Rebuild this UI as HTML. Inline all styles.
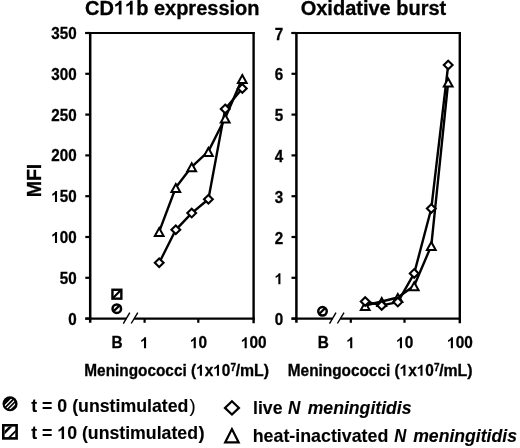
<!DOCTYPE html><html><head><meta charset="utf-8"><style>html,body{margin:0;padding:0;background:#fff}svg{display:block;will-change:transform;filter:blur(0.35px)}text,.one{stroke:#000;stroke-width:0.3px}text.lg{stroke-width:0.12px}</style></head><body><svg width="520" height="448" viewBox="0 0 520 448">
<rect width="520" height="448" fill="#fff"/>
<g stroke="#000" fill="none">
<line x1="90.2" y1="32.0" x2="90.2" y2="322.8" stroke-width="2.5"/>
<line x1="253.6" y1="32.0" x2="253.6" y2="323.2" stroke-width="2.4"/>
<line x1="85.3" y1="33.0" x2="254.8" y2="33.0" stroke-width="2.2"/>
<line x1="85.3" y1="318.6" x2="126.3" y2="318.6" stroke-width="2.3"/>
<line x1="134.2" y1="318.6" x2="254.8" y2="318.6" stroke-width="2.3"/>
<line x1="85.3" y1="33.00" x2="90.2" y2="33.00" stroke-width="2.2"/>
<line x1="85.3" y1="73.80" x2="90.2" y2="73.80" stroke-width="2.2"/>
<line x1="85.3" y1="114.60" x2="90.2" y2="114.60" stroke-width="2.2"/>
<line x1="85.3" y1="155.40" x2="90.2" y2="155.40" stroke-width="2.2"/>
<line x1="85.3" y1="196.20" x2="90.2" y2="196.20" stroke-width="2.2"/>
<line x1="85.3" y1="237.00" x2="90.2" y2="237.00" stroke-width="2.2"/>
<line x1="85.3" y1="277.80" x2="90.2" y2="277.80" stroke-width="2.2"/>
<line x1="85.3" y1="318.60" x2="90.2" y2="318.60" stroke-width="2.2"/>
<line x1="144.6" y1="318.6" x2="144.6" y2="322.8" stroke-width="2.2"/>
<line x1="198.3" y1="318.6" x2="198.3" y2="322.8" stroke-width="2.2"/>
<line x1="123.3" y1="323.7" x2="129.8" y2="312.6" stroke-width="1.4"/>
<line x1="131.2" y1="323.5" x2="137.8" y2="312.6" stroke-width="1.4"/>
</g>
<text x="85" y="14.6" font-family="&apos;Liberation Sans&apos;, sans-serif" font-weight="bold" font-size="20">CD  b expression</text>
<text transform="translate(76.6,324.50) scale(0.95,1)" font-family="&apos;Liberation Sans&apos;, sans-serif" font-weight="bold" font-size="16" text-anchor="end">0</text>
<text transform="translate(76.6,283.70) scale(0.95,1)" font-family="&apos;Liberation Sans&apos;, sans-serif" font-weight="bold" font-size="16" text-anchor="end">50</text>
<text transform="translate(76.6,242.90) scale(0.95,1)" font-family="&apos;Liberation Sans&apos;, sans-serif" font-weight="bold" font-size="16" text-anchor="end"> 00</text>
<text transform="translate(76.6,202.10) scale(0.95,1)" font-family="&apos;Liberation Sans&apos;, sans-serif" font-weight="bold" font-size="16" text-anchor="end"> 50</text>
<text transform="translate(76.6,161.30) scale(0.95,1)" font-family="&apos;Liberation Sans&apos;, sans-serif" font-weight="bold" font-size="16" text-anchor="end">200</text>
<text transform="translate(76.6,120.50) scale(0.95,1)" font-family="&apos;Liberation Sans&apos;, sans-serif" font-weight="bold" font-size="16" text-anchor="end">250</text>
<text transform="translate(76.6,79.70) scale(0.95,1)" font-family="&apos;Liberation Sans&apos;, sans-serif" font-weight="bold" font-size="16" text-anchor="end">300</text>
<text transform="translate(76.6,38.90) scale(0.95,1)" font-family="&apos;Liberation Sans&apos;, sans-serif" font-weight="bold" font-size="16" text-anchor="end">350</text>
<text transform="translate(117.1,348.3) scale(0.96,1)" font-family="&apos;Liberation Sans&apos;, sans-serif" font-weight="bold" font-size="16" text-anchor="middle">B</text>
<text transform="translate(144.5,348.3) scale(0.96,1)" font-family="&apos;Liberation Sans&apos;, sans-serif" font-weight="bold" font-size="16" text-anchor="middle"> </text>
<text transform="translate(198.5,348.3) scale(0.96,1)" font-family="&apos;Liberation Sans&apos;, sans-serif" font-weight="bold" font-size="16" text-anchor="middle"> 0</text>
<text transform="translate(253.7,348.3) scale(0.96,1)" font-family="&apos;Liberation Sans&apos;, sans-serif" font-weight="bold" font-size="16" text-anchor="middle"> 00</text>
<polyline points="159.20,231.60 175.80,187.50 191.70,166.80 208.40,151.40 225.20,118.00 242.30,78.60" fill="none" stroke="#000" stroke-width="2.4" stroke-linejoin="round"/>
<polyline points="159.20,262.80 175.80,229.80 191.70,213.10 208.40,199.30 225.20,108.90 242.30,88.40" fill="none" stroke="#000" stroke-width="2.4" stroke-linejoin="round"/>
<path d="M159.20 228.10L163.60 236.10L154.80 236.10Z" fill="#fff" stroke="#000" stroke-width="2.0"/>
<path d="M175.80 184.00L180.20 192.00L171.40 192.00Z" fill="#fff" stroke="#000" stroke-width="2.0"/>
<path d="M191.70 163.30L196.10 171.30L187.30 171.30Z" fill="#fff" stroke="#000" stroke-width="2.0"/>
<path d="M208.40 147.90L212.80 155.90L204.00 155.90Z" fill="#fff" stroke="#000" stroke-width="2.0"/>
<path d="M225.20 114.50L229.60 122.50L220.80 122.50Z" fill="#fff" stroke="#000" stroke-width="2.0"/>
<path d="M242.30 75.10L246.70 83.10L237.90 83.10Z" fill="#fff" stroke="#000" stroke-width="2.0"/>
<path d="M159.20 258.50L163.60 262.80L159.20 267.10L154.80 262.80Z" fill="#fff" stroke="#000" stroke-width="2.1"/>
<path d="M175.80 225.50L180.20 229.80L175.80 234.10L171.40 229.80Z" fill="#fff" stroke="#000" stroke-width="2.1"/>
<path d="M191.70 208.80L196.10 213.10L191.70 217.40L187.30 213.10Z" fill="#fff" stroke="#000" stroke-width="2.1"/>
<path d="M208.40 195.00L212.80 199.30L208.40 203.60L204.00 199.30Z" fill="#fff" stroke="#000" stroke-width="2.1"/>
<path d="M225.20 104.60L229.60 108.90L225.20 113.20L220.80 108.90Z" fill="#fff" stroke="#000" stroke-width="2.1"/>
<path d="M242.30 84.10L246.70 88.40L242.30 92.70L237.90 88.40Z" fill="#fff" stroke="#000" stroke-width="2.1"/>
<circle cx="116.8" cy="308.7" r="4.25" fill="#fff" stroke="#000" stroke-width="2.5"/><line x1="113.20" y1="311.70" x2="119.80" y2="305.10" stroke="#000" stroke-width="2.3"/>
<rect x="112.45" y="289.75" width="8.90" height="8.90" fill="#fff" stroke="#000" stroke-width="2.4"/><line x1="113.05" y1="298.05" x2="120.75" y2="290.35" stroke="#000" stroke-width="2.1"/>
<g stroke="#000" fill="none">
<line x1="296.4" y1="32.0" x2="296.4" y2="322.8" stroke-width="2.5"/>
<line x1="459.8" y1="32.0" x2="459.8" y2="323.2" stroke-width="2.4"/>
<line x1="291.5" y1="33.0" x2="461.0" y2="33.0" stroke-width="2.2"/>
<line x1="291.5" y1="318.6" x2="332.5" y2="318.6" stroke-width="2.3"/>
<line x1="340.4" y1="318.6" x2="461.0" y2="318.6" stroke-width="2.3"/>
<line x1="291.5" y1="33.00" x2="296.4" y2="33.00" stroke-width="2.2"/>
<line x1="291.5" y1="73.80" x2="296.4" y2="73.80" stroke-width="2.2"/>
<line x1="291.5" y1="114.60" x2="296.4" y2="114.60" stroke-width="2.2"/>
<line x1="291.5" y1="155.40" x2="296.4" y2="155.40" stroke-width="2.2"/>
<line x1="291.5" y1="196.20" x2="296.4" y2="196.20" stroke-width="2.2"/>
<line x1="291.5" y1="237.00" x2="296.4" y2="237.00" stroke-width="2.2"/>
<line x1="291.5" y1="277.80" x2="296.4" y2="277.80" stroke-width="2.2"/>
<line x1="291.5" y1="318.60" x2="296.4" y2="318.60" stroke-width="2.2"/>
<line x1="350.8" y1="318.6" x2="350.8" y2="322.8" stroke-width="2.2"/>
<line x1="404.5" y1="318.6" x2="404.5" y2="322.8" stroke-width="2.2"/>
<line x1="329.5" y1="323.7" x2="336.0" y2="312.6" stroke-width="1.4"/>
<line x1="337.4" y1="323.5" x2="344.0" y2="312.6" stroke-width="1.4"/>
</g>
<text x="300.7" y="14.6" font-family="&apos;Liberation Sans&apos;, sans-serif" font-weight="bold" font-size="20">Oxidative burst</text>
<text transform="translate(283.1,325.10) scale(0.95,1)" font-family="&apos;Liberation Sans&apos;, sans-serif" font-weight="bold" font-size="16" text-anchor="end">0</text>
<text transform="translate(283.1,284.30) scale(0.95,1)" font-family="&apos;Liberation Sans&apos;, sans-serif" font-weight="bold" font-size="16" text-anchor="end"> </text>
<text transform="translate(283.1,243.50) scale(0.95,1)" font-family="&apos;Liberation Sans&apos;, sans-serif" font-weight="bold" font-size="16" text-anchor="end">2</text>
<text transform="translate(283.1,202.70) scale(0.95,1)" font-family="&apos;Liberation Sans&apos;, sans-serif" font-weight="bold" font-size="16" text-anchor="end">3</text>
<text transform="translate(283.1,161.90) scale(0.95,1)" font-family="&apos;Liberation Sans&apos;, sans-serif" font-weight="bold" font-size="16" text-anchor="end">4</text>
<text transform="translate(283.1,121.10) scale(0.95,1)" font-family="&apos;Liberation Sans&apos;, sans-serif" font-weight="bold" font-size="16" text-anchor="end">5</text>
<text transform="translate(283.1,80.30) scale(0.95,1)" font-family="&apos;Liberation Sans&apos;, sans-serif" font-weight="bold" font-size="16" text-anchor="end">6</text>
<text transform="translate(283.1,39.50) scale(0.95,1)" font-family="&apos;Liberation Sans&apos;, sans-serif" font-weight="bold" font-size="16" text-anchor="end">7</text>
<text transform="translate(323.3,348.3) scale(0.96,1)" font-family="&apos;Liberation Sans&apos;, sans-serif" font-weight="bold" font-size="16" text-anchor="middle">B</text>
<text transform="translate(350.7,348.3) scale(0.96,1)" font-family="&apos;Liberation Sans&apos;, sans-serif" font-weight="bold" font-size="16" text-anchor="middle"> </text>
<text transform="translate(404.7,348.3) scale(0.96,1)" font-family="&apos;Liberation Sans&apos;, sans-serif" font-weight="bold" font-size="16" text-anchor="middle"> 0</text>
<text transform="translate(459.9,348.3) scale(0.96,1)" font-family="&apos;Liberation Sans&apos;, sans-serif" font-weight="bold" font-size="16" text-anchor="middle"> 00</text>
<polyline points="365.20,305.50 381.70,301.50 397.80,297.50 414.20,285.80 431.30,245.60 448.20,82.00" fill="none" stroke="#000" stroke-width="2.4" stroke-linejoin="round"/>
<polyline points="365.20,301.50 381.70,305.40 397.80,302.10 414.20,273.40 431.30,208.50 448.20,65.00" fill="none" stroke="#000" stroke-width="2.4" stroke-linejoin="round"/>
<path d="M365.20 302.00L369.60 310.00L360.80 310.00Z" fill="#fff" stroke="#000" stroke-width="2.0"/>
<path d="M381.70 298.00L386.10 306.00L377.30 306.00Z" fill="#fff" stroke="#000" stroke-width="2.0"/>
<path d="M397.80 294.00L402.20 302.00L393.40 302.00Z" fill="#fff" stroke="#000" stroke-width="2.0"/>
<path d="M414.20 282.30L418.60 290.30L409.80 290.30Z" fill="#fff" stroke="#000" stroke-width="2.0"/>
<path d="M431.30 242.10L435.70 250.10L426.90 250.10Z" fill="#fff" stroke="#000" stroke-width="2.0"/>
<path d="M448.20 78.50L452.60 86.50L443.80 86.50Z" fill="#fff" stroke="#000" stroke-width="2.0"/>
<path d="M365.20 297.20L369.60 301.50L365.20 305.80L360.80 301.50Z" fill="#fff" stroke="#000" stroke-width="2.1"/>
<path d="M381.70 301.10L386.10 305.40L381.70 309.70L377.30 305.40Z" fill="#fff" stroke="#000" stroke-width="2.1"/>
<path d="M397.80 297.80L402.20 302.10L397.80 306.40L393.40 302.10Z" fill="#fff" stroke="#000" stroke-width="2.1"/>
<path d="M414.20 269.10L418.60 273.40L414.20 277.70L409.80 273.40Z" fill="#fff" stroke="#000" stroke-width="2.1"/>
<path d="M431.30 204.20L435.70 208.50L431.30 212.80L426.90 208.50Z" fill="#fff" stroke="#000" stroke-width="2.1"/>
<path d="M448.20 60.70L452.60 65.00L448.20 69.30L443.80 65.00Z" fill="#fff" stroke="#000" stroke-width="2.1"/>
<circle cx="322.5" cy="311.3" r="4.25" fill="#fff" stroke="#000" stroke-width="2.5"/><line x1="318.90" y1="314.30" x2="325.50" y2="307.70" stroke="#000" stroke-width="2.3"/>
<text transform="translate(40.7,180.55) rotate(-90)" font-family="&apos;Liberation Sans&apos;, sans-serif" font-weight="bold" font-size="19.5" text-anchor="middle">MFI</text>
<defs><clipPath id="lc"><circle cx="9.85" cy="403.85" r="5.3"/></clipPath><clipPath id="ls"><rect x="4.6" y="426.6" width="11.2" height="11.1"/></clipPath></defs>
<circle cx="10.05" cy="403.75" r="7.55" fill="#000"/>
<g clip-path="url(#lc)" stroke="#fff" stroke-width="1.25">
<line x1="0.26" y1="410.26" x2="16.26" y2="394.26"/>
<line x1="2.43" y1="412.43" x2="18.43" y2="396.43"/>
<line x1="4.50" y1="414.50" x2="20.50" y2="398.50"/>
</g>
<rect x="3.3" y="425.3" width="13.3" height="13.1" fill="#fff" stroke="#000" stroke-width="2.6"/>
<g clip-path="url(#ls)" stroke="#000">
<line x1="-2.36" y1="439.54" x2="17.64" y2="419.54" stroke-width="2.5"/>
<line x1="2.40" y1="444.30" x2="22.40" y2="424.30" stroke-width="1.8"/>
</g>
<path d="M231.95 401.20L238.95 407.90L231.95 414.60L224.95 407.90Z" fill="#fff" stroke="#000" stroke-width="2.2"/>
<path d="M231.9 429.1 L238.65 442.4 L225.15 442.4 Z" fill="#fff" stroke="#000" stroke-width="2.2"/>
<text x="84.34" y="375.7" font-family="&apos;Liberation Sans&apos;, sans-serif" font-weight="bold" font-style="normal" font-size="16" textLength="145.92" lengthAdjust="spacingAndGlyphs" xml:space="preserve">Meningococci ( x 0</text>
<text x="230.50" y="371.3" font-family="&apos;Liberation Sans&apos;, sans-serif" font-weight="bold" font-style="normal" font-size="10" xml:space="preserve">7</text>
<text x="235.65" y="375.7" font-family="&apos;Liberation Sans&apos;, sans-serif" font-weight="bold" font-style="normal" font-size="16" textLength="33.42" lengthAdjust="spacingAndGlyphs" xml:space="preserve">/mL)</text>
<text x="287.84" y="375.7" font-family="&apos;Liberation Sans&apos;, sans-serif" font-weight="bold" font-style="normal" font-size="16" textLength="145.92" lengthAdjust="spacingAndGlyphs" xml:space="preserve">Meningococci ( x 0</text>
<text x="434.00" y="371.3" font-family="&apos;Liberation Sans&apos;, sans-serif" font-weight="bold" font-style="normal" font-size="10" xml:space="preserve">7</text>
<text x="439.15" y="375.7" font-family="&apos;Liberation Sans&apos;, sans-serif" font-weight="bold" font-style="normal" font-size="16" textLength="33.42" lengthAdjust="spacingAndGlyphs" xml:space="preserve">/mL)</text>
<text class="lg" x="31.26" y="411.6" font-family="&apos;Liberation Sans&apos;, sans-serif" font-weight="bold" font-style="normal" font-size="18.4" textLength="157.13" lengthAdjust="spacingAndGlyphs" xml:space="preserve">t = 0 (unstimulated</text>
<text class="lg" x="189.52" y="411.6" font-family="&apos;Liberation Sans&apos;, sans-serif" font-weight="normal" font-style="normal" font-size="18.4" xml:space="preserve">)</text>
<text class="lg" x="31.26" y="439.1" font-family="&apos;Liberation Sans&apos;, sans-serif" font-weight="bold" font-style="normal" font-size="18.4" textLength="166.71" lengthAdjust="spacingAndGlyphs" xml:space="preserve">t =  0 (unstimulated</text>
<text class="lg" x="198.50" y="439.1" font-family="&apos;Liberation Sans&apos;, sans-serif" font-weight="bold" font-style="normal" font-size="18.4" xml:space="preserve">)</text>
<text class="lg" x="253.00" y="414.2" font-family="&apos;Liberation Sans&apos;, sans-serif" font-weight="bold" font-style="normal" font-size="18.4" textLength="29.46" lengthAdjust="spacingAndGlyphs" xml:space="preserve">live</text>
<text class="lg" x="288.07" y="414.2" font-family="&apos;Liberation Sans&apos;, sans-serif" font-weight="bold" font-style="italic" font-size="18.4" textLength="12.33" lengthAdjust="spacingAndGlyphs" xml:space="preserve">N</text>
<text class="lg" x="307.66" y="414.2" font-family="&apos;Liberation Sans&apos;, sans-serif" font-weight="bold" font-style="italic" font-size="18.4" textLength="103.92" lengthAdjust="spacingAndGlyphs" xml:space="preserve">meningitidis</text>
<text class="lg" x="252.69" y="441.7" font-family="&apos;Liberation Sans&apos;, sans-serif" font-weight="bold" font-style="normal" font-size="18.4" textLength="135.64" lengthAdjust="spacingAndGlyphs" xml:space="preserve">heat-inactivated</text>
<text class="lg" x="394.27" y="441.7" font-family="&apos;Liberation Sans&apos;, sans-serif" font-weight="bold" font-style="italic" font-size="18.4" textLength="12.03" lengthAdjust="spacingAndGlyphs" xml:space="preserve">N</text>
<text class="lg" x="413.16" y="441.7" font-family="&apos;Liberation Sans&apos;, sans-serif" font-weight="bold" font-style="italic" font-size="18.4" textLength="103.82" lengthAdjust="spacingAndGlyphs" xml:space="preserve">meningitidis</text>
<g class="one" fill="#000"><path transform="matrix(0.00978,0.00000,0.00000,-0.00977,113.875,14.600)" d="M780 0H499V1018Q345 879 136 813V1058Q246 1093 375 1189Q504 1286 552 1409H780Z"/><path transform="matrix(0.00978,0.00000,0.00000,-0.00977,125.000,14.600)" d="M780 0H499V1018Q345 879 136 813V1058Q246 1093 375 1189Q504 1286 552 1409H780Z"/><path transform="matrix(0.00743,0.00000,0.00000,-0.00781,51.245,242.900)" d="M780 0H499V1018Q345 879 136 813V1058Q246 1093 375 1189Q504 1286 552 1409H780Z"/><path transform="matrix(0.00743,0.00000,0.00000,-0.00781,51.245,202.100)" d="M780 0H499V1018Q345 879 136 813V1058Q246 1093 375 1189Q504 1286 552 1409H780Z"/><path transform="matrix(0.00750,0.00000,0.00000,-0.00781,140.230,348.300)" d="M780 0H499V1018Q345 879 136 813V1058Q246 1093 375 1189Q504 1286 552 1409H780Z"/><path transform="matrix(0.00750,0.00000,0.00000,-0.00781,189.961,348.300)" d="M780 0H499V1018Q345 879 136 813V1058Q246 1093 375 1189Q504 1286 552 1409H780Z"/><path transform="matrix(0.00750,0.00000,0.00000,-0.00781,240.891,348.300)" d="M780 0H499V1018Q345 879 136 813V1058Q246 1093 375 1189Q504 1286 552 1409H780Z"/><path transform="matrix(0.00743,0.00000,0.00000,-0.00781,274.638,284.300)" d="M780 0H499V1018Q345 879 136 813V1058Q246 1093 375 1189Q504 1286 552 1409H780Z"/><path transform="matrix(0.00750,0.00000,0.00000,-0.00781,346.430,348.300)" d="M780 0H499V1018Q345 879 136 813V1058Q246 1093 375 1189Q504 1286 552 1409H780Z"/><path transform="matrix(0.00750,0.00000,0.00000,-0.00781,396.161,348.300)" d="M780 0H499V1018Q345 879 136 813V1058Q246 1093 375 1189Q504 1286 552 1409H780Z"/><path transform="matrix(0.00750,0.00000,0.00000,-0.00781,447.091,348.300)" d="M780 0H499V1018Q345 879 136 813V1058Q246 1093 375 1189Q504 1286 552 1409H780Z"/><path transform="matrix(0.00750,0.00000,0.00000,-0.00781,196.101,375.700)" d="M780 0H499V1018Q345 879 136 813V1058Q246 1093 375 1189Q504 1286 552 1409H780Z"/><path transform="matrix(0.00750,0.00000,0.00000,-0.00781,213.180,375.700)" d="M780 0H499V1018Q345 879 136 813V1058Q246 1093 375 1189Q504 1286 552 1409H780Z"/><path transform="matrix(0.00750,0.00000,0.00000,-0.00781,399.601,375.700)" d="M780 0H499V1018Q345 879 136 813V1058Q246 1093 375 1189Q504 1286 552 1409H780Z"/><path transform="matrix(0.00750,0.00000,0.00000,-0.00781,416.680,375.700)" d="M780 0H499V1018Q345 879 136 813V1058Q246 1093 375 1189Q504 1286 552 1409H780Z"/><path transform="matrix(0.00865,0.00000,0.00000,-0.00898,57.321,439.100)" d="M780 0H499V1018Q345 879 136 813V1058Q246 1093 375 1189Q504 1286 552 1409H780Z"/></g></svg></body></html>
